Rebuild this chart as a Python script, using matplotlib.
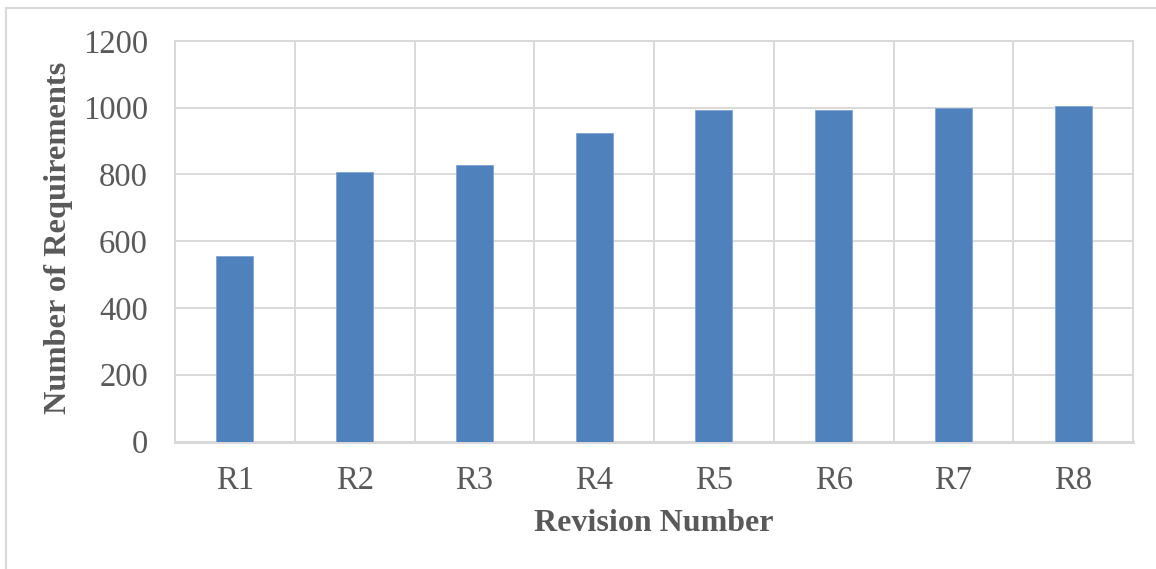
import numpy as np
import matplotlib.pyplot as plt
from matplotlib.patches import Rectangle

revisions = ['R1', 'R2', 'R3', 'R4', 'R5', 'R6', 'R7', 'R8']
requirements = [557, 808, 828, 925, 993, 993, 1000, 1004]
y_ticks = [0, 200, 400, 600, 800, 1000, 1200]

bar_color = '#4f81bd'
grid_color = '#d9d9d9'
text_color = '#595959'

plt.rcParams['font.family'] = ['Liberation Serif', 'DejaVu Serif']

fig = plt.figure(figsize=(11.56, 5.69), dpi=100)
ax = fig.add_axes([175 / 1156, 1 - 441.5 / 569, 958 / 1156, 400.5 / 569])

# light frame around the chart area, cut off at the right and bottom
fig.patches.append(Rectangle((6 / 1156, -0.1), 1.2, 1 - 8.5 / 569 + 0.1,
                             transform=fig.transFigure, fill=False,
                             edgecolor=grid_color, linewidth=1.5))

x = np.arange(len(revisions))
ax.bar(x, requirements, width=0.31, color=bar_color,
       edgecolor='#7fa3d3', linewidth=0.6, zorder=3)

ax.set_xlim(-0.5, len(revisions) - 0.5)
ax.set_ylim(0, 1200)
ax.set_yticks(y_ticks)
ax.set_xticks(x)
ax.set_xticklabels(revisions)
ax.set_xticks(np.arange(len(revisions) + 1) - 0.5, minor=True)

ax.grid(axis='y', which='major', color=grid_color, linewidth=1.4, zorder=0)
ax.grid(axis='x', which='minor', color=grid_color, linewidth=1.4, zorder=0)
ax.tick_params(axis='both', which='both', length=0, labelsize=23.5,
               labelcolor=text_color)
ax.tick_params(axis='y', pad=19.5)
ax.tick_params(axis='x', pad=17.5)

for side in ['top', 'right', 'left']:
    ax.spines[side].set_color(grid_color)
    ax.spines[side].set_linewidth(1.4)
ax.spines['bottom'].set_color(grid_color)
ax.spines['bottom'].set_linewidth(2.2)

ax.set_xlabel('Revision Number', fontsize=23, fontweight='bold', color=text_color)
ax.set_ylabel('Number of Requirements', fontsize=23.3, fontweight='bold', color=text_color)
ax.xaxis.label.set_va('center')
ax.yaxis.label.set_va('center')
ax.xaxis.set_label_coords(0.5, -0.2035)
ax.yaxis.set_label_coords(-0.122, 0.509)

fig.savefig('out.png', dpi=100)
